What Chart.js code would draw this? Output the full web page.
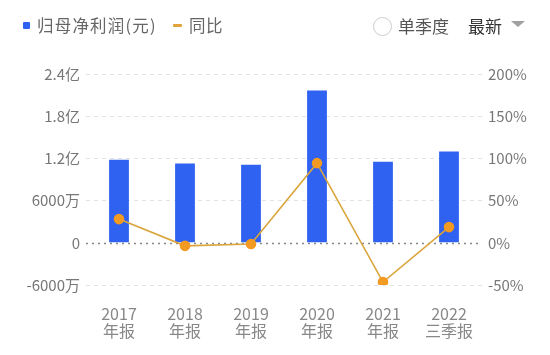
<!DOCTYPE html>
<html>
<head>
<meta charset="utf-8">
<script src="https://cdn.jsdelivr.net/npm/chart.js@4/dist/chart.umd.min.js"></script>
<style>
  html,body{margin:0;padding:0;background:#fff;}
  #wrap{position:relative;width:550px;height:355px;font-family:"Noto Sans CJK SC","Noto Sans",sans-serif;}
  canvas{position:absolute;left:0;top:0;}
  .hd{position:absolute;white-space:nowrap;line-height:1;}
</style>
</head>
<body>
<div id="wrap">
  <canvas id="c" width="550" height="355"></canvas>
  <div class="hd" style="left:23px;top:22px;width:7px;height:7px;background:#2f62f0;border-radius:1px;"></div>
  <div class="hd" style="left:37px;top:17px;font-size:16.5px;letter-spacing:1.2px;color:#666;">归母净利润(元)</div>
  <div class="hd" style="left:173px;top:24px;width:9px;height:3px;background:#e0a53a;border-radius:1px;"></div>
  <div class="hd" style="left:189px;top:17px;font-size:16.5px;letter-spacing:0.5px;color:#666;">同比</div>
  <div class="hd" style="left:373px;top:17px;width:17px;height:17px;border:1px solid #ccc;border-radius:50%;"></div>
  <div class="hd" style="left:398px;top:17px;font-size:17px;color:#555;">单季度</div>
  <div class="hd" style="left:468px;top:17px;font-size:17px;color:#333;">最新</div>
  <svg class="hd" style="left:510px;top:20px;" width="16" height="8" viewBox="0 0 16 8"><polygon points="1,1 15,1 8,7" fill="#a0a0a0"/></svg>
</div>
<script>
const categories = [['2017','年报'],['2018','年报'],['2019','年报'],['2020','年报'],['2021','年报'],['2022','三季报']];
const netProfit = [1.18e8, 1.127e8, 1.109e8, 2.165e8, 1.152e8, 1.298e8];
const yoy = [28.1, -3.6, -1.5, 94.4, -46.5, 18.6];
const leftTicks = [-0.6e8, 0, 0.6e8, 1.2e8, 1.8e8, 2.4e8];
const leftTickLabels = ['-6000万', '0', '6000万', '1.2亿', '1.8亿', '2.4亿'];
const rightTicks = [-50, 0, 50, 100, 150, 200];
const rightTickLabels = ['-50%', '0%', '50%', '100%', '150%', '200%'];

const FONT = '"Noto Sans CJK SC","Noto Sans",sans-serif';

const zeroLine = {
  id: 'zeroLine',
  beforeDatasetsDraw(chart) {
    const y = chart.scales.y;
    const ctx = chart.ctx;
    const py = Math.round(y.getPixelForValue(0)) + 0.5;
    ctx.save();
    ctx.strokeStyle = '#888';
    ctx.lineWidth = 1.5;
    ctx.setLineDash([2, 4]);
    ctx.beginPath();
    ctx.moveTo(chart.chartArea.left, py);
    ctx.lineTo(chart.chartArea.right, py);
    ctx.stroke();
    ctx.restore();
  }
};

new Chart(document.getElementById('c'), {
  data: {
    labels: categories,
    datasets: [
      {
        type: 'line',
        label: '同比',
        data: yoy,
        yAxisID: 'y1',
        borderColor: '#d9a53c',
        backgroundColor: '#f39a22',
        pointBackgroundColor: '#f39a22',
        pointBorderColor: '#f39a22',
        pointRadius: 4.5,
        borderWidth: 1.6,
        tension: 0,
        order: 0
      },
      {
        type: 'bar',
        label: '归母净利润(元)',
        data: netProfit,
        yAxisID: 'y',
        backgroundColor: '#2f62f0',
        categoryPercentage: 1,
        barPercentage: 0.3,
        order: 1
      }
    ]
  },
  options: {
    responsive: false,
    animation: false,
    devicePixelRatio: 1,
    layout: { padding: { top: 74, bottom: 0, left: 0, right: 0 } },
    plugins: { legend: { display: false }, tooltip: { enabled: false } },
    scales: {
      x: {
        grid: { display: false, drawTicks: false },
        border: { display: false },
        ticks: { color: '#888', font: { family: FONT, size: 16, lineHeight: 1.05 }, padding: 21, maxRotation: 0, autoSkip: false },
        afterFit(s) { s.height = 70; }
      },
      y: {
        position: 'left',
        min: -0.6e8, max: 2.4e8,
        afterBuildTicks(s) { s.ticks = leftTicks.map(v => ({ value: v })); },
        ticks: {
          color: '#777', font: { family: FONT, size: 15 }, padding: 6,
          callback(v) { const i = leftTicks.indexOf(v); return i >= 0 ? leftTickLabels[i] : ''; }
        },
        grid: {
          drawTicks: false,
          color: ctx => (ctx.tick && ctx.tick.value === 0) ? 'rgba(0,0,0,0)' : '#e3e3e3',
          lineWidth: 1
        },
        border: { display: false, dash: [4, 4] },
        afterFit(s) { s.width = 86; }
      },
      y1: {
        position: 'right',
        min: -50, max: 200,
        afterBuildTicks(s) { s.ticks = rightTicks.map(v => ({ value: v })); },
        ticks: {
          color: '#777', font: { family: FONT, size: 15 }, padding: 6,
          callback(v) { const i = rightTicks.indexOf(v); return i >= 0 ? rightTickLabels[i] : ''; }
        },
        grid: { display: false, drawTicks: false },
        border: { display: false },
        afterFit(s) { s.width = 68; }
      }
    }
  },
  plugins: [zeroLine]
});
</script>
</body>
</html>
